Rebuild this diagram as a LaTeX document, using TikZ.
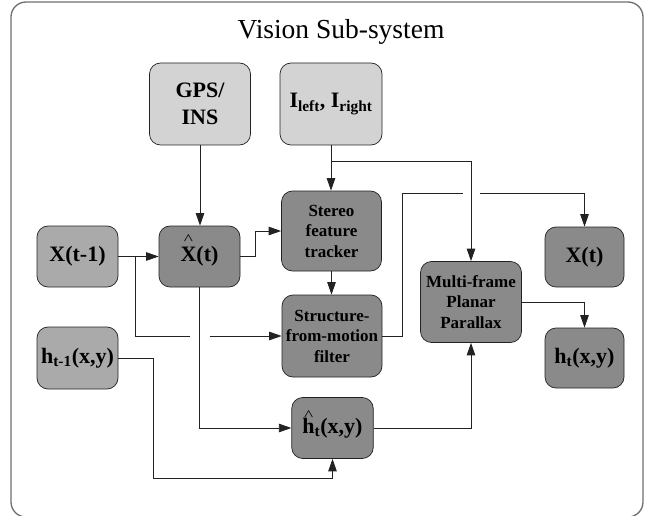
\documentclass[tikz,border=0pt]{standalone}
\usepackage{fontspec}
\setmainfont{Liberation Serif}
\usetikzlibrary{arrows.meta}
\definecolor{lightbox}{HTML}{D3D3D3}
\definecolor{midbox}{HTML}{AAAAAA}
\definecolor{darkbox}{HTML}{8A8A8A}
\definecolor{framec}{HTML}{6E6E6E}
\definecolor{linec}{HTML}{222222}
\newcommand{\hatover}[2]{\ooalign{#1\cr\hidewidth\smash{\raisebox{#2}{\normalfont\fontsize{15}{15}\selectfont\scalebox{1.3}[1]{\textasciicircum}}}\hidewidth\cr}}
\begin{document}
\begin{tikzpicture}[x=1pt,y=-1pt,
  bx/.style 2 args={minimum width=#1pt, minimum height=#2pt},
  boxbase/.style={draw=linec, line width=0.7pt, rounded corners=11pt, inner sep=0pt, align=center},
  light/.style={boxbase, fill=lightbox},
  mid/.style={boxbase, fill=midbox},
  dark/.style={boxbase, fill=darkbox},
  bigtxt/.style={font=\fontsize{22}{26.5}\selectfont\bfseries},
  smalltxt/.style={font=\fontsize{17}{20.5}\selectfont\bfseries},
  conn/.style={draw=linec, line width=0.8pt},
  arr/.style={-{Triangle[length=12.5pt,width=8.5pt]}}
]
\useasboundingbox (0,0) rectangle (648,516);
\draw[framec, line width=1.3pt, rounded corners=15pt] (11,2) rectangle (643,517);
\node[font=\fontsize{27.5}{30}\selectfont, anchor=base] (title) at (341,38.3) {Vision Sub-system};

\node[light, bx={101}{82}, bigtxt] (gps) at (200,104) {GPS/\\INS};
\node[light, bx={102}{82}, bigtxt] (img) at (331,104) {I\textsubscript{left}, I\textsubscript{right}};
\node[mid, bx={81}{61}, bigtxt] (xprev) at (77.5,256.5) {X(t-1)};
\node[dark, bx={81}{61}, bigtxt] (xhat) at (199.5,256.5) {\hatover{X}{17pt}(t)};
\node[dark, bx={100}{80}, smalltxt] (stereo) at (331.5,231) {Stereo\\feature\\tracker};
\node[dark, bx={100}{82}, smalltxt] (sfm) at (332,336) {Structure-\\from-motion\\filter};
\node[dark, bx={101}{81}, smalltxt] (mfpp) at (471,302) {Multi-frame\\Planar\\Parallax};
\node[dark, bx={79}{60}, bigtxt] (xt) at (584.5,257) {X(t)};
\node[mid, bx={81}{62}, bigtxt] (hprev) at (77.5,358) {h\textsubscript{t-1}(x,y)};
\node[dark, bx={79}{60}, bigtxt] (ht) at (584.5,358) {h\textsubscript{t}(x,y)};
\node[dark, bx={81.5}{61}, bigtxt] (hhat) at (332.5,428) {\hatover{h}{13pt}\textsubscript{t}(x,y)};

% connectors
\draw[conn,arr] (gps.south) -- (gps.south |- xhat.north);
\draw[conn,arr] (img.south) -- (img.south |- stereo.north);
\path (img.south) ++(0,16) coordinate (j1);
\draw[conn,arr] (j1) -| (mfpp.north);
\draw[conn,arr] (xprev.east) -- (xhat.west);
\path (xprev.east) ++(17,0) coordinate (j2);
\coordinate (c1) at (sfm.west -| xhat.south);
\draw[conn] (j2) |- ([xshift=-10pt]c1);
\draw[conn,arr] ([xshift=10pt]c1) -- (sfm.west);
\draw[conn,arr] (xhat.east) -- ++(15,0) |- (stereo.west);
\draw[conn,arr] (stereo.south) -- (stereo.south |- sfm.north);
\coordinate (k3) at (402,193);
\coordinate (c2) at (k3 -| mfpp.north);
\draw[conn] (sfm.east) -| (k3) -- ([xshift=-8.5pt]c2);
\draw[conn,arr] ([xshift=8.5pt]c2) -| (xt.north);
\draw[conn,arr] (mfpp.east) -| (ht.north);
\draw[conn,arr] (xhat.south) |- (hhat.west);
\draw[conn,arr] (hprev.east) -- ++(35,0) |- ([yshift=-20pt]hhat.south) -- (hhat.south);
\draw[conn,arr] (hhat.east) -| (mfpp.south);
\end{tikzpicture}
\end{document}
